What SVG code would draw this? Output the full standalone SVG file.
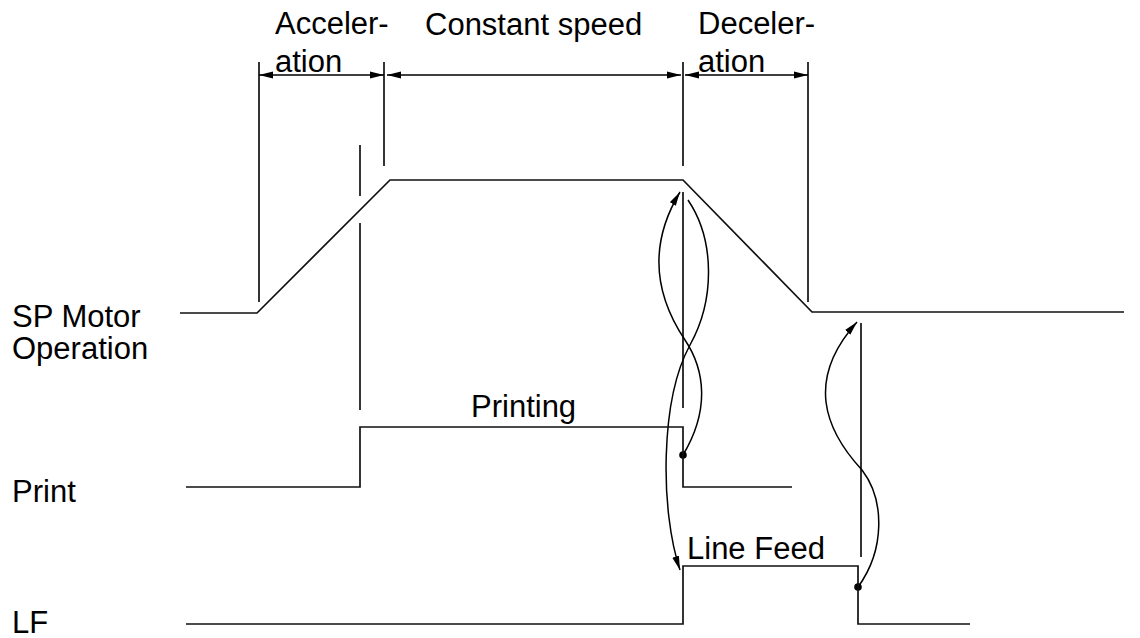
<svg xmlns="http://www.w3.org/2000/svg" width="1140" height="638" viewBox="0 0 1140 638">
<style>
.ln{fill:none;stroke:#111;stroke-width:1.7}
.cv{fill:none;stroke:#000;stroke-width:1.5}
.t{font-family:"Liberation Sans",Arial,sans-serif;font-size:31px;fill:#000}
</style>
<defs>
<marker id="ah" markerWidth="14" markerHeight="8" refX="14" refY="4" orient="auto" markerUnits="userSpaceOnUse">
<path d="M0,0.5 L14,4 L0,7.5 Z" fill="#000"/>
</marker>
<marker id="ah2" markerWidth="14" markerHeight="8" refX="14" refY="4" orient="auto-start-reverse" markerUnits="userSpaceOnUse">
<path d="M0,0.5 L14,4 L0,7.5 Z" fill="#000"/>
</marker>
</defs>
<rect width="1140" height="638" fill="#fff"/>

<g id="labels">
<text class="t" x="12" y="327">SP Motor</text>
<text class="t" x="12" y="359">Operation</text>
<text class="t" x="12" y="502">Print</text>
<text class="t" x="12" y="633">LF</text>
</g>

<g id="dimension-labels">
<text class="t" x="275" y="34">Acceler-</text>
<text class="t" x="275" y="72">ation</text>
<text class="t" x="425" y="35">Constant speed</text>
<text class="t" x="698" y="34">Deceler-</text>
<text class="t" x="698" y="72">ation</text>
</g>

<g id="guides">
<line class="ln" x1="259" y1="62" x2="259" y2="302"/>
<line class="ln" x1="384" y1="62" x2="384" y2="166"/>
<line class="ln" x1="360" y1="145" x2="360" y2="196"/>
<line class="ln" x1="360" y1="223" x2="360" y2="410"/>
<line class="ln" x1="683" y1="62" x2="683" y2="166"/>
<line class="ln" x1="683" y1="192" x2="683" y2="408"/>
<line class="ln" x1="808" y1="62" x2="808" y2="302"/>
<line class="ln" x1="861" y1="323" x2="861" y2="557"/>
</g>

<g id="connectors">
<line class="cv" x1="259" y1="75" x2="384" y2="75" marker-start="url(#ah2)" marker-end="url(#ah)"/>
<line class="cv" x1="387" y1="75" x2="681" y2="75" marker-start="url(#ah2)" marker-end="url(#ah)"/>
<line class="cv" x1="685" y1="75" x2="808" y2="75" marker-start="url(#ah2)" marker-end="url(#ah)"/>
<path class="cv" d="M683,455 C710,410 705,370 685,340 C655,295 648,245 680,192" marker-end="url(#ah)"/>
<path class="cv" d="M688,200 C715,240 715,300 690,345 C660,400 660,510 680,570" marker-end="url(#ah)"/>
<path class="cv" d="M858,587 C885,550 885,500 862,470 C825,430 805,380 857,322" marker-end="url(#ah)"/>
<circle cx="683" cy="455" r="3.8" fill="#000"/>
<circle cx="858" cy="587" r="3.8" fill="#000"/>
</g>

<g id="sp-motor">
<polyline class="ln" points="180,313 257,313 390,180 683,180 812,312 1124,312"/>
</g>

<g id="print">
<polyline class="ln" points="186,487 360,487 360,427 683,427 683,487 792,487"/>
<text class="t" x="471" y="417">Printing</text>
</g>

<g id="lf">
<polyline class="ln" points="186,624 683,624 683,566 858,566 858,624 970,624"/>
<text class="t" x="687" y="559">Line Feed</text>
</g>
</svg>
